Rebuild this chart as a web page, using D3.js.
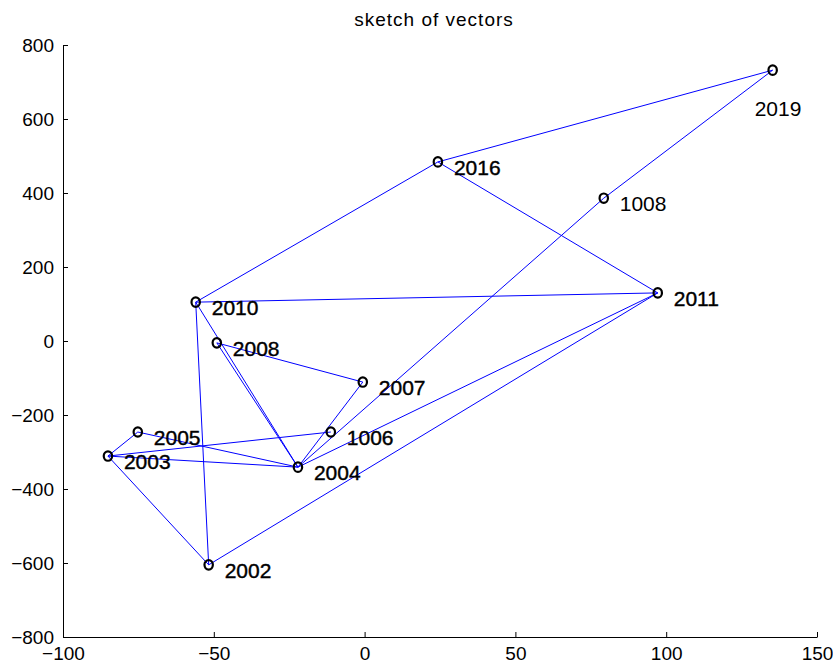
<!DOCTYPE html>
<html>
<head>
<meta charset="utf-8">
<script src="https://cdn.jsdelivr.net/npm/d3@7"></script>
<style>
  body { margin: 0; background: #fff; }
  svg { display: block; }
  text { font-family: "Liberation Sans", Arial, sans-serif; }
</style>
</head>
<body>
<svg id="chart" width="833" height="668"></svg>
<script>
// point labels and coordinates
const labels = ["2019", "2016", "1008", "2011", "2010", "2008", "2007", "1006", "2005", "2003", "2004", "2002"]
const xs = [135.3, 24.3, 79.3, 97.2, -56.0, -49.0, -0.6, -11.2, -75.2, -85.1, -22.1, -51.7]
const ys = [732, 484, 386, 130, 105, -5, -111, -246, -246, -311, -341, -605]

// segments between labelled points
const links = [
  ["2019", "2016"], ["2019", "1008"], ["1008", "2004"],
  ["2016", "2010"], ["2016", "2011"], ["2010", "2011"],
  ["2010", "2002"], ["2010", "2004"], ["2008", "2004"],
  ["2008", "2007"], ["2007", "2004"], ["2004", "2011"],
  ["2004", "2005"], ["2004", "2003"], ["2003", "1006"],
  ["2003", "2005"], ["2003", "2002"], ["2002", "2011"]
]

const xTicks = [-100, -50, 0, 50, 100, 150]
const yTicks = [-800, -600, -400, -200, 0, 200, 400, 600, 800]

const svg = d3.select("#chart")
const margin = { left: 63, right: 16, top: 45, bottom: 31 }
const W = 833, H = 668

const x = d3.scaleLinear().domain([-100, 150]).range([margin.left, W - margin.right])
const y = d3.scaleLinear().domain([-800, 800]).range([H - margin.bottom, margin.top])

const pts = labels.map((l, i) => ({ name: l, x: xs[i], y: ys[i] }))
const byName = new Map(pts.map(p => [p.name, p]))

// title
svg.append("text")
  .attr("x", 434).attr("y", 26)
  .attr("text-anchor", "middle")
  .style("font-size", "19px")
  .style("letter-spacing", "1px")
  .text("sketch of vectors")

// axes (ticks pointing inward like matlab)
const xAxis = svg.append("g")
  .attr("transform", "translate(0," + y(-800) + ")")
  .call(d3.axisBottom(x).tickValues(xTicks).tickSizeInner(-5).tickSizeOuter(0).tickPadding(10))
xAxis.selectAll("text").style("font-size", "19px").attr("fill", "#000")

const yAxis = svg.append("g")
  .attr("transform", "translate(" + x(-100) + ",0)")
  .call(d3.axisLeft(y).tickValues(yTicks).tickSizeInner(-5).tickSizeOuter(0).tickPadding(9))
yAxis.selectAll("text").style("font-size", "19px").attr("fill", "#000")

svg.selectAll(".domain").attr("stroke", "#000")
svg.selectAll(".tick line").attr("stroke", "#000")

// vector lines
svg.append("g").selectAll("line")
  .data(links)
  .join("line")
  .attr("x1", d => x(byName.get(d[0]).x))
  .attr("y1", d => y(byName.get(d[0]).y))
  .attr("x2", d => x(byName.get(d[1]).x))
  .attr("y2", d => y(byName.get(d[1]).y))
  .attr("stroke", "#0000ff")
  .attr("stroke-width", 1)

// markers
svg.append("g").selectAll("ellipse")
  .data(pts)
  .join("ellipse")
  .attr("cx", d => x(d.x))
  .attr("cy", d => y(d.y))
  .attr("rx", 4.2)
  .attr("ry", 4.7)
  .attr("fill", "none")
  .attr("stroke", "#000")
  .attr("stroke-width", 2.2)

// labels, 2019 sits under its marker; the others look a touch heavier
svg.append("g").selectAll("text")
  .data(pts)
  .join("text")
  .attr("x", d => x(d.x) + (d.name === "2019" ? -18 : 16))
  .attr("y", d => y(d.y) + (d.name === "2019" ? 46 : 13))
  .style("font-size", "21px")
  .attr("fill", "#000")
  .attr("stroke", d => (d.name === "2019" || d.name === "1008") ? "none" : "#000")
  .attr("stroke-width", 0.4)
  .text(d => d.name)
</script>
</body>
</html>
